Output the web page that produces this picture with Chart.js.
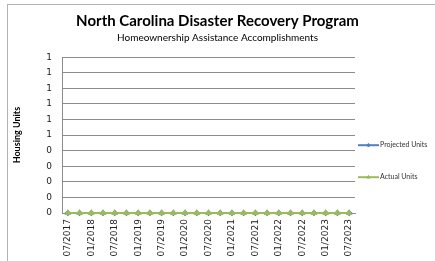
<!DOCTYPE html>
<html>
<head>
<meta charset="utf-8">
<script src="https://cdn.jsdelivr.net/npm/chart.js@4.4.1/dist/chart.umd.min.js"></script>
<style>
    html, body { margin: 0; padding: 0; background: #ffffff; }
    #chart { display: block; }
</style>
</head>
<body>
<canvas id="chart" width="435" height="261"></canvas>
<script>
// Quarterly reporting periods (only every other one is labelled on the axis)
const periods = [
    '07/2017', '10/2017', '01/2018', '04/2018', '07/2018', '10/2018',
    '01/2019', '04/2019', '07/2019', '10/2019', '01/2020', '04/2020',
    '07/2020', '10/2020', '01/2021', '04/2021', '07/2021', '10/2021',
    '01/2022', '04/2022', '07/2022', '10/2022', '01/2023', '04/2023',
    '07/2023'
];
const projectedUnits = [0, 0, 0, 0, 0, 0, 0, 0, 0, 0, 0, 0, 0, 0, 0, 0, 0, 0, 0, 0, 0, 0, 0, 0, 0];
const actualUnits    = [0, 0, 0, 0, 0, 0, 0, 0, 0, 0, 0, 0, 0, 0, 0, 0, 0, 0, 0, 0, 0, 0, 0, 0, 0];
const yTicks = [0, 0.1, 0.2, 0.3, 0.4, 0.5, 0.6, 0.7, 0.8, 0.9, 1];

const gridGray = '#8c8c8c';
const tickFont = { size: 9, family: "'DejaVu Sans', sans-serif" };

// Outer chart frame (cut off on the right and bottom like the original)
const framePlugin = {
    id: 'frame',
    beforeDraw(chart) {
        const ctx = chart.ctx;
        ctx.save();
        ctx.strokeStyle = '#b3b3b3';
        ctx.lineWidth = 1;
        ctx.strokeRect(7.5, 4.5, 600, 600);
        ctx.restore();
    }
};

// Excel style legend: short line with the marker in the middle
const lineLegendPlugin = {
    id: 'lineLegend',
    afterDraw(chart) {
        const ctx = chart.ctx;
        const area = chart.chartArea;
        const x0 = area.right + 3;
        const offsets = [88, 120];
        ctx.save();
        chart.data.datasets.forEach((ds, i) => {
            const y = area.top + offsets[i];
            ctx.strokeStyle = ds.borderColor;
            ctx.lineWidth = 2;
            ctx.beginPath();
            ctx.moveTo(x0, y);
            ctx.lineTo(x0 + 21, y);
            ctx.stroke();
            ctx.fillStyle = ds.pointBackgroundColor;
            ctx.strokeStyle = ds.pointBorderColor;
            ctx.lineWidth = 1;
            Chart.helpers.drawPoint(ctx, {
                pointStyle: ds.pointStyle,
                radius: ds.pointRadius,
                rotation: 0,
                borderWidth: 1
            }, x0 + 10.5, y);
            ctx.fillStyle = '#333333';
            ctx.font = "7px 'Lato', sans-serif";
            ctx.textBaseline = 'middle';
            ctx.textAlign = 'left';
            ctx.fillText(ds.label, x0 + 22, y);
        });
        ctx.restore();
    }
};

new Chart(document.getElementById('chart'), {
    type: 'line',
    data: {
        labels: periods,
        datasets: [{
            label: 'Projected Units',
            data: projectedUnits,
            borderColor: '#4f81bd',
            backgroundColor: '#4f81bd',
            pointBackgroundColor: '#4f81bd',
            pointBorderColor: '#4f81bd',
            pointStyle: 'rectRot',
            pointRadius: 1.8,
            borderWidth: 2.2,
            clip: false,
            order: 1
        }, {
            label: 'Actual Units',
            data: actualUnits,
            borderColor: '#9bbb59',
            backgroundColor: '#9bbb59',
            pointBackgroundColor: '#9bbb59',
            pointBorderColor: '#9bbb59',
            pointStyle: 'triangle',
            pointRadius: 1.8,
            borderWidth: 2.2,
            clip: false,
            order: 0
        }]
    },
    options: {
        responsive: false,
        animation: false,
        devicePixelRatio: 1,
        layout: { padding: { top: 5, left: 0, right: 0, bottom: 0 } },
        plugins: {
            legend: { display: false },
            tooltip: { enabled: false },
            title: {
                display: true,
                text: 'North Carolina Disaster Recovery Program',
                color: '#000000',
                font: { size: 15, weight: 'bold', family: "'Lato', sans-serif" },
                padding: { top: 7, bottom: 0 }
            },
            subtitle: {
                display: true,
                text: 'Homeownership Assistance Accomplishments',
                color: '#000000',
                font: { size: 10, family: "'Lato', sans-serif" },
                padding: { top: 2, bottom: 13.2 }
            }
        },
        scales: {
            x: {
                offset: true,
                grid: { display: false, drawTicks: false },
                border: { display: true, color: gridGray, width: 1 },
                ticks: {
                    autoSkip: false,
                    minRotation: 90,
                    maxRotation: 90,
                    padding: 6,
                    color: '#222222',
                    font: tickFont,
                    callback: (value, index) => index % 2 === 0 ? periods[index] : ''
                },
                afterFit: (scale) => { scale.height = 48; }
            },
            y: {
                min: 0,
                max: 1,
                afterBuildTicks: (scale) => {
                    scale.ticks = yTicks.map(v => ({ value: v }));
                },
                grid: { color: gridGray, drawTicks: false },
                border: { display: true, color: gridGray, width: 1 },
                ticks: {
                    padding: 10,
                    color: '#222222',
                    font: tickFont,
                    callback: (value) => Math.round(Math.round(value * 10) / 10).toString()
                },
                title: {
                    display: true,
                    text: 'Housing Units',
                    color: '#000000',
                    font: { size: 9, weight: 'bold', family: "'Lato', sans-serif" },
                    padding: { top: 12, bottom: 0 }
                },
                afterFit: (scale) => { scale.width = 62; }
            },
            // empty right-hand box that reserves the legend column
            legendSpace: {
                type: 'linear',
                position: 'right',
                display: true,
                grid: { display: false, drawTicks: false },
                border: { display: false },
                ticks: { display: false },
                afterFit: (scale) => { scale.width = 80; }
            }
        }
    },
    plugins: [framePlugin, lineLegendPlugin]
});
</script>
</body>
</html>
